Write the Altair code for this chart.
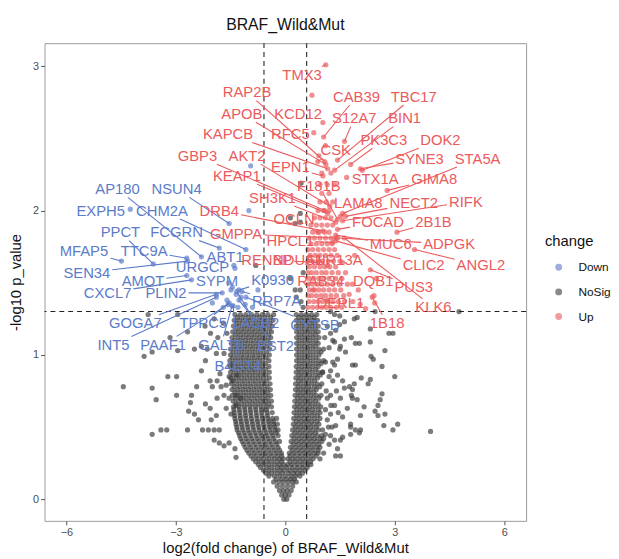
import altair as alt
import pandas as pd

FONT = "Liberation Sans"
BLUE = "#5B7BC9"
GREY = "#3c3c3c"
RED = "#EB5A5C"
X_DOMAIN = [-6.6, 6.6]
Y_DOMAIN = [-0.15, 3.16]
FC_CUT = 0.585
P_CUT = 1.301

# ---- NoSignificant: dense V-shaped core (rows) ----
core_rows = [
    (0.00, [-0.04, 0.04]),
    (0.03, [-0.1, 0.0, 0.1]),
    (0.06, [-0.16, -0.05, 0.05, 0.16]),
    (0.09, [-0.22, -0.08, 0.06, 0.2]),
    (0.12, [-0.32, -0.18, -0.05, 0.08, 0.2, 0.3]),
    (0.16, [-0.45, -0.3, -0.15, 0.0, 0.15, 0.28, 0.4]),
    (0.20, [-0.6, -0.45, -0.3, -0.15, -0.02, 0.12, 0.26, 0.4, 0.54]),
    (0.24, [-0.74, -0.6, -0.45, -0.3, -0.16, -0.04, 0.06, 0.18, 0.32, 0.46, 0.6, 0.7]),
    (0.28, [-0.88, -0.74, -0.6, -0.45, -0.3, -0.16, -0.06, 0.07, 0.2, 0.34, 0.48, 0.62, 0.76]),
    (0.32, [-1.0, -0.85, -0.7, -0.55, -0.4, -0.25, -0.11, 0.11, 0.24, 0.38, 0.52, 0.66, 0.8, 0.9]),
    (0.36, [-1.1, -0.95, -0.8, -0.65, -0.5, -0.35, -0.2, 0.14, 0.28, 0.42, 0.56, 0.7, 0.84, 0.95]),
    (0.40, [-1.18, -1.03, -0.88, -0.73, -0.58, -0.43, -0.28, -0.16, 0.16, 0.3, 0.44, 0.58, 0.72, 0.86, 1.0]),
    (0.44, [-1.25, -1.1, -0.95, -0.8, -0.65, -0.5, -0.35, -0.2, 0.18, 0.32, 0.46, 0.6, 0.74, 0.88, 1.0]),
    (0.48, [-1.32, -1.17, -1.02, -0.87, -0.72, -0.57, -0.42, -0.28, -0.2, 0.2, 0.34, 0.48, 0.62, 0.76, 0.9, 1.02]),
    (0.52, [-1.35, -1.2, -1.05, -0.9, -0.75, -0.6, -0.45, -0.32, -0.22, 0.22, 0.36, 0.5, 0.64, 0.78, 0.92]),
    (0.56, [-1.38, -1.23, -1.08, -0.93, -0.78, -0.63, -0.48, -0.35, -0.24, 0.23, 0.37, 0.51, 0.65, 0.8, 0.95]),
    (0.60, [-1.4, -1.25, -1.1, -0.95, -0.8, -0.65, -0.5, -0.36, 0.24, 0.38, 0.52, 0.66, 0.8, 0.95]),
    (0.64, [-1.42, -1.27, -1.12, -0.97, -0.82, -0.67, -0.52, -0.38, 0.25, 0.39, 0.53, 0.67, 0.82, 0.97]),
    (0.68, [-1.43, -1.28, -1.13, -0.98, -0.83, -0.68, -0.53, -0.38, 0.26, 0.4, 0.54, 0.68, 0.83]),
    (0.72, [-1.45, -1.3, -1.15, -1.0, -0.85, -0.7, -0.55, -0.4, 0.27, 0.41, 0.55, 0.7, 0.85, 0.98]),
    (0.76, [-1.46, -1.31, -1.16, -1.01, -0.86, -0.71, -0.56, -0.41, 0.28, 0.42, 0.56, 0.7, 0.85]),
    (0.80, [-1.48, -1.33, -1.18, -1.03, -0.88, -0.73, -0.58, -0.42, 0.28, 0.42, 0.57, 0.72, 0.87, 1.0]),
    (0.84, [-1.5, -1.35, -1.2, -1.05, -0.9, -0.75, -0.6, -0.44, 0.29, 0.43, 0.58, 0.73, 0.88]),
    (0.88, [-1.5, -1.35, -1.2, -1.05, -0.9, -0.75, -0.6, -0.44, 0.3, 0.44, 0.59, 0.74, 0.9, 1.02]),
    (0.92, [-1.52, -1.37, -1.22, -1.07, -0.92, -0.77, -0.62, -0.45, 0.3, 0.45, 0.6, 0.75, 0.9]),
    (0.96, [-1.52, -1.37, -1.22, -1.07, -0.92, -0.77, -0.62, -0.45, 0.31, 0.46, 0.61, 0.76, 0.92, 1.05]),
    (1.00, [-1.5, -1.35, -1.2, -1.05, -0.9, -0.75, -0.6, -0.44, 0.31, 0.46, 0.61, 0.76, 0.92]),
    (1.04, [-1.5, -1.35, -1.2, -1.05, -0.9, -0.75, -0.6, -0.43, 0.31, 0.46, 0.61, 0.76, 0.92, 1.05]),
    (1.08, [-1.48, -1.33, -1.18, -1.03, -0.88, -0.73, -0.58, -0.42, 0.31, 0.46, 0.61, 0.76, 0.9]),
    (1.12, [-1.46, -1.31, -1.16, -1.01, -0.86, -0.71, -0.56, -0.4, 0.31, 0.46, 0.61, 0.76, 0.92]),
    (1.16, [-1.44, -1.29, -1.14, -0.99, -0.84, -0.69, -0.54, -0.38, 0.31, 0.46, 0.61, 0.76, 0.9]),
    (1.20, [-1.42, -1.27, -1.12, -0.97, -0.82, -0.67, -0.52, -0.36, 0.3, 0.45, 0.6, 0.75, 0.9]),
    (1.24, [-1.4, -1.25, -1.1, -0.95, -0.8, -0.65, -0.5, -0.34, 0.3, 0.45, 0.6, 0.75, 0.88]),
    (1.28, [-1.38, -1.23, -1.08, -0.93, -0.78, -0.63, -0.48, -0.32, 0.3, 0.44, 0.58, 0.72, 0.86]),
]
# second, offset layer of core points (fills the gaps of the first)
core_rows_b = [
    (0.14, [-0.25, -0.1, 0.03, 0.15, 0.25]),
    (0.18, [-0.52, -0.38, -0.22, -0.08, 0.08, 0.22, 0.34, 0.47]),
    (0.22, [-0.68, -0.52, -0.38, -0.22, -0.1, 0.04, 0.19, 0.33, 0.47, 0.6]),
    (0.26, [-0.81, -0.67, -0.52, -0.38, -0.23, -0.1, 0.13, 0.27, 0.41, 0.55, 0.69]),
    (0.30, [-0.94, -0.8, -0.65, -0.5, -0.36, -0.22, -0.1, 0.13, 0.27, 0.41, 0.55, 0.7, 0.84]),
    (0.34, [-1.05, -0.9, -0.75, -0.6, -0.45, -0.3, -0.16, 0.19, 0.33, 0.47, 0.61, 0.75, 0.9]),
    (0.38, [-1.14, -0.99, -0.84, -0.69, -0.54, -0.39, -0.24, 0.22, 0.36, 0.5, 0.64, 0.78, 0.92]),
    (0.42, [-1.22, -1.07, -0.92, -0.77, -0.62, -0.47, -0.32, 0.24, 0.38, 0.52, 0.66, 0.8, 0.95]),
    (0.46, [-1.28, -1.13, -0.98, -0.83, -0.68, -0.53, -0.38, -0.25, 0.26, 0.4, 0.54, 0.68, 0.82]),
    (0.50, [-1.33, -1.18, -1.03, -0.88, -0.73, -0.58, -0.43, -0.3, 0.28, 0.42, 0.56, 0.7, 0.85]),
    (0.54, [-1.36, -1.21, -1.06, -0.91, -0.76, -0.61, -0.46, -0.33, 0.3, 0.44, 0.58, 0.72, 0.87]),
    (0.58, [-1.39, -1.24, -1.09, -0.94, -0.79, -0.64, -0.49, 0.31, 0.45, 0.59, 0.73, 0.88]),
    (0.62, [-1.41, -1.26, -1.11, -0.96, -0.81, -0.66, -0.51, 0.32, 0.46, 0.6, 0.74, 0.9]),
    (0.66, [-1.35, -1.2, -1.05, -0.9, -0.75, -0.6, -0.46, 0.33, 0.47, 0.61, 0.75, 0.9]),
    (0.70, [-1.37, -1.22, -1.07, -0.92, -0.77, -0.62, -0.48, 0.34, 0.48, 0.62, 0.77, 0.92]),
    (0.74, [-1.38, -1.23, -1.08, -0.93, -0.78, -0.63, -0.49, 0.35, 0.49, 0.63, 0.78]),
    (0.78, [-1.4, -1.25, -1.1, -0.95, -0.8, -0.65, -0.5, 0.35, 0.5, 0.64, 0.8, 0.94]),
    (0.82, [-1.42, -1.27, -1.12, -0.97, -0.82, -0.67, -0.52, 0.36, 0.5, 0.65, 0.8]),
    (0.86, [-1.43, -1.28, -1.13, -0.98, -0.83, -0.68, -0.53, 0.37, 0.51, 0.66, 0.82, 0.96]),
    (0.90, [-1.44, -1.29, -1.14, -0.99, -0.84, -0.69, -0.54, 0.37, 0.52, 0.67, 0.83]),
    (0.94, [-1.45, -1.3, -1.15, -1.0, -0.85, -0.7, -0.55, 0.38, 0.53, 0.68, 0.84, 0.98]),
    (0.98, [-1.45, -1.3, -1.15, -1.0, -0.85, -0.7, -0.53, 0.38, 0.53, 0.68, 0.84]),
    (1.02, [-1.43, -1.28, -1.13, -0.98, -0.83, -0.68, -0.52, 0.38, 0.53, 0.68, 0.84, 0.98]),
    (1.06, [-1.41, -1.26, -1.11, -0.96, -0.81, -0.66, -0.5, 0.38, 0.53, 0.68, 0.83]),
    (1.10, [-1.39, -1.24, -1.09, -0.94, -0.79, -0.64, -0.48, 0.38, 0.53, 0.68, 0.84]),
    (1.14, [-1.37, -1.22, -1.07, -0.92, -0.77, -0.62, -0.46, 0.38, 0.53, 0.68, 0.83]),
    (1.18, [-1.35, -1.2, -1.05, -0.9, -0.75, -0.6, -0.44, 0.37, 0.52, 0.67, 0.82]),
    (1.22, [-1.33, -1.18, -1.03, -0.88, -0.73, -0.58, -0.42, 0.37, 0.52, 0.67, 0.81]),
    (1.26, [-1.31, -1.16, -1.01, -0.86, -0.71, -0.56, -0.4, 0.37, 0.51, 0.65, 0.79]),
]

# ---- NoSignificant: scattered points, left side ----
grey_left_x = [-3.76, -2.95, -3.16, -3.87, -3.65, -2.95, -2.68, -4.44, -3.65, -3.54,
               -3.22, -2.98, -2.98, -3.65, -3.41, -3.25, -2.68, -2.27, -2.57, -2.60,
               -2.65, -2.49, -2.38, -2.43, -2.30, -2.06, -2.19, -2.06, -2.03, -1.89,
               -2.11, -1.95, -1.81, -1.95, -1.81, -1.68, -1.54, -1.35, -1.38, -1.87,
               -1.79, -2.00, -1.76, -1.62, -1.54, -1.46, -2.30, -2.14, -1.89, -1.68,
               -2.19, -1.49, -1.33, -1.62, -1.49, -1.35, -1.22, -1.35, -1.68, -1.54,
               -1.87, -2.49, -1.95, -1.70, -2.20, -1.60, -1.85, -2.05]
grey_left_y = [1.28, 1.28, 1.12, 0.99, 1.02, 1.03, 1.16, 0.78, 0.77, 0.69,
               0.85, 0.85, 0.72, 0.45, 0.48, 0.48, 0.48, 0.48, 0.72, 0.67,
               0.61, 0.59, 0.55, 0.78, 0.89, 0.82, 0.66, 0.63, 0.55, 0.58,
               0.48, 0.48, 0.48, 0.41, 0.39, 0.37, 0.39, 0.29, 0.35, 0.82,
               0.87, 0.78, 0.78, 0.79, 0.85, 0.82, 1.06, 1.04, 1.01, 1.01,
               0.96, 0.93, 0.86, 0.63, 0.59, 0.65, 0.70, 0.72, 0.72, 0.70,
               0.70, 1.04, 1.25, 1.22, 1.20, 1.15, 1.12, 1.15]

# ---- NoSignificant: scattered points, right side ----
grey_right_x = [4.76, 3.98, 3.08, 2.95, 2.70, 2.73, 2.54, 2.46, 2.54, 2.60,
                2.65, 3.00, 2.65, 2.73, 2.41, 2.35, 2.33, 2.33, 2.46, 2.84,
                2.95, 2.03, 1.92, 1.81, 2.33, 2.08, 2.27, 2.16, 2.06, 1.97,
                1.84, 1.81, 1.89, 1.84, 1.92, 1.84, 1.65, 1.51, 1.62, 1.89,
                1.97, 1.62, 1.49, 1.35, 1.24, 1.79, 1.92, 2.06, 2.03, 1.79,
                1.57, 1.51, 1.43, 1.38, 1.51, 1.35, 1.79, 1.70, 1.57, 1.51,
                1.62, 1.76, 1.43, 1.57, 1.35, 1.43, 1.24, 1.30, 1.24, 1.35,
                1.24, 1.38, 1.24, 1.49, 1.35, 1.24, 1.38, 1.49,
                1.15, 1.2, 1.1, 1.2, 1.12, 1.25, 1.15, 1.1, 1.2, 1.05,
                1.3, 1.3, 1.4, 1.45, 1.1, 1.18, 1.28, 1.05, 0.95, 1.08, 1.02, 1.15]
grey_right_y = [1.30, 0.47, 0.52, 0.48, 0.51, 0.59, 0.58, 0.61, 0.65, 0.69,
                0.73, 0.85, 0.92, 1.03, 0.97, 0.99, 1.09, 1.18, 1.30, 1.15,
                1.15, 1.08, 1.08, 1.12, 0.83, 0.84, 0.80, 0.64, 0.58, 0.69,
                0.70, 0.72, 0.80, 0.76, 0.93, 0.93, 1.02, 1.06, 1.11, 1.25,
                1.26, 1.23, 1.27, 1.28, 1.30, 0.50, 0.48, 0.48, 0.46, 0.45,
                0.43, 0.41, 0.35, 0.30, 0.30, 0.41, 0.52, 0.63, 0.57, 0.70,
                0.77, 0.78, 0.86, 0.82, 0.93, 0.97, 0.89, 0.82, 0.72, 0.65,
                0.59, 0.51, 0.44, 1.04, 1.09, 1.15, 1.17, 1.21,
                1.2, 1.05, 0.95, 0.85, 0.75, 0.65, 0.55, 0.45, 0.38, 0.32,
                0.95, 1.1, 0.75, 0.6, 0.62, 0.5, 0.5, 0.42, 0.28, 1.12, 0.88, 0.7]

# ---- NoSignificant above the p cut but inside the fold-change cut ----
grey_mid_x = [0.41, 0.14, 0.27, 0.41, 0.49, 0.41, 0.30, 0.43, 0.49, -0.81, 0.27, 0.14, 0.43]
grey_mid_y = [1.92, 1.95, 1.91, 1.98, 1.57, 1.45, 1.40, 1.37, 1.33, 1.62, 1.45, 1.53, 2.19]

# ---- Up: unlabeled cluster ----
up_rows = [
    (1.33, [0.62, 0.75, 0.88, 1.0, 1.12, 1.25, 1.4, 1.55]),
    (1.37, [0.65, 0.78, 0.9, 1.02, 1.15, 1.3, 1.45, 1.62, 1.85]),
    (1.41, [0.62, 0.72, 0.85, 0.98, 1.1, 1.25, 1.4, 1.6, 2.43]),
    (1.45, [0.66, 0.8, 0.92, 1.05, 1.2, 1.35, 1.52, 2.0]),
    (1.49, [0.62, 0.75, 0.88, 1.0, 1.15, 1.3, 1.48, 1.7]),
    (1.53, [0.65, 0.78, 0.92, 1.05, 1.2, 1.38, 1.55, 2.5]),
    (1.57, [0.62, 0.72, 0.85, 1.0, 1.12, 1.28, 1.45, 1.65]),
    (1.61, [0.66, 0.8, 0.95, 1.08, 1.22, 1.38]),
    (1.65, [0.62, 0.75, 0.9, 1.02, 1.18, 1.32, 1.5]),
    (1.69, [0.68, 0.82, 0.95, 1.1, 1.25, 1.42, 1.9]),
    (1.73, [0.62, 0.75, 0.9, 1.05, 1.2, 1.35]),
    (1.77, [0.7, 0.85, 1.0, 1.15, 1.28]),
    (1.81, [0.65, 0.8, 0.95, 1.1, 1.25]),
    (1.85, [0.75, 0.92, 1.08, 1.2]),
    (1.90, [0.7, 0.85, 1.0, 1.15, 1.3]),
    (1.95, [0.8, 0.95, 1.1, 1.25]),
    (2.00, [0.9, 1.05, 1.2]),
    (2.06, [0.95, 1.12, 1.3]),
    (2.12, [1.0, 1.2]),
    (2.18, [0.95, 1.15, 1.35]),
    (2.26, [1.0, 1.25]),
    (2.38, [0.92]),
    (2.45, [1.1]),
]
up_extra_x = [0.73, 2.2, 2.05, 1.75, 2.45]
up_extra_y = [2.80, 1.32, 1.35, 1.42, 1.36]

# ---- Down: unlabeled points ----
down_extra_x = [-0.95, -1.00, -1.35, -1.22, -1.60, -1.10, -1.45, -0.90, -1.30, -2.00, -1.70, -0.75, -1.55]
down_extra_y = [2.31, 2.00, 1.42, 1.40, 1.38, 1.35, 1.47, 1.33, 1.33, 1.36, 1.33, 1.45, 1.50]

# ---- Labeled genes: point position and repelled text position ----
label_names = ["AP180", "NSUN4", "EXPH5", "CHM2A", "PPCT", "FCGRN", "MFAP5", "TTC9A", "ABT1",
               "SEN34", "URGCP", "AMOT", "SYPM", "CXCL7", "PLIN2", "K0930", "RRP7A", "GOGA7",
               "TPPC5", "LACB2", "CYTSB", "INT5", "PAAF1", "GALT6", "EST2", "B4GT4",
               "TMX3", "RAP2B", "CAB39", "TBC17", "APOB", "KCD12", "S12A7", "BIN1", "KAPCB",
               "RFC5", "PK3C3", "DOK2", "CSK", "GBP3", "AKT2", "SYNE3", "STA5A", "EPN1",
               "KEAP1", "STX1A", "GIMA8", "F181B", "SH3K1", "LAMA8", "NECT2", "RIFK", "DRB4",
               "OCLN", "FOCAD", "2B1B", "GMPPA", "HPCL1", "MUC6", "ADPGK", "RENBP", "NDUS1",
               "ANR13A", "CLIC2", "ANGL2", "RAB34", "DQB1", "PUS3", "DERL1", "KLK6", "1B18"]
label_change = ["Down"] * 26 + ["Up"] * 45
label_px = [-2.30, -1.54, -4.25, -1.08, -3.62, -1.81, -4.49, -2.70, -1.41,
            -2.68, -1.38, -2.70, -1.49, -2.57, -1.73, -1.27, -1.19, -1.89,
            -1.54, -1.33, -1.08, -1.89, -1.57, -1.46, -1.27, -1.43,
            1.11, 1.08, 1.05, 1.43, 1.11, 1.03, 1.62, 1.35, 1.16,
            0.78, 1.79, 2.11, 0.89, 1.08, 1.22, 2.06, 1.57, 1.03,
            1.16, 1.68, 2.79, 1.43, 1.38, 1.51, 1.65, 1.57, 1.03,
            0.89, 1.43, 3.06, 1.38, 1.30, 1.38, 1.43, 0.89, 1.16,
            1.57, 1.38, 3.54, 0.76, 1.84, 2.33, 1.16, 1.62, 2.38]
label_py = [1.68, 1.91, 2.01, 1.73, 1.63, 1.74, 1.65, 1.67, 1.62,
            1.65, 1.60, 1.55, 1.45, 1.52, 1.43, 1.45, 1.44, 1.42,
            1.36, 1.44, 1.40, 1.40, 1.35, 1.34, 1.38, 1.34,
            3.01, 2.34, 2.51, 2.35, 2.32, 2.61, 2.48, 2.28, 2.29,
            2.54, 2.32, 2.28, 2.34, 2.00, 2.03, 2.29, 1.98, 2.24,
            1.98, 2.23, 2.14, 1.94, 1.92, 1.96, 1.96, 1.93, 1.86,
            1.85, 1.87, 1.85, 1.81, 1.78, 1.83, 1.81, 1.64, 1.62,
            1.64, 1.79, 1.73, 1.45, 1.49, 1.59, 1.38, 1.81, 1.40]
text_x = [-4.60, -2.98, -5.06, -3.38, -4.52, -2.98, -5.52, -3.87, -1.65,
          -5.44, -2.27, -3.90, -1.87, -4.87, -3.27, -0.35, -0.24, -4.11,
          -2.25, -0.81, 0.81, -4.71, -3.35, -1.76, -0.27, -1.30,
          0.46, -1.05, 1.95, 3.52, -1.19, 0.35, 1.89, 3.27, -1.57,
          0.14, 2.70, 4.25, 1.38, -2.41, -1.05, 3.68, 5.27, 0.14,
          -1.33, 2.46, 4.08, 0.92, -0.35, 2.00, 3.52, 4.95, -1.81,
          0.24, 2.54, 4.06, -1.35, 0.14, 2.89, 4.49, -0.51, 0.35,
          1.33, 3.79, 5.36, 0.97, 2.41, 3.52, 1.51, 4.06, 2.79]
text_y = [2.15, 2.15, 2.00, 2.00, 1.85, 1.85, 1.72, 1.72, 1.68,
          1.57, 1.61, 1.51, 1.51, 1.43, 1.43, 1.52, 1.37, 1.22,
          1.22, 1.22, 1.21, 1.07, 1.07, 1.07, 1.06, 0.92,
          2.94, 2.82, 2.79, 2.79, 2.67, 2.67, 2.64, 2.64, 2.53,
          2.53, 2.49, 2.49, 2.42, 2.38, 2.38, 2.36, 2.36, 2.30,
          2.24, 2.22, 2.22, 2.17, 2.09, 2.05, 2.05, 2.06, 2.00,
          1.94, 1.92, 1.92, 1.84, 1.79, 1.77, 1.77, 1.66, 1.66,
          1.66, 1.62, 1.62, 1.51, 1.51, 1.47, 1.36, 1.33, 1.22]

# ---------------- build tables ----------------
rows = []
for yv, xs_ in core_rows + core_rows_b:
    rows += [(xv, yv, "NoSignificant") for xv in xs_]
for xs_, ys_ in [(grey_left_x, grey_left_y), (grey_right_x, grey_right_y), (grey_mid_x, grey_mid_y)]:
    rows += [(a, b, "NoSignificant") for a, b in zip(xs_, ys_)]
for yv, xs_ in up_rows:
    rows += [(xv, yv, "Up") for xv in xs_]
rows += [(a, b, "Up") for a, b in zip(up_extra_x, up_extra_y)]
rows += [(a, b, "Down") for a, b in zip(down_extra_x, down_extra_y)]
rows += [(a, b, c) for a, b, c in zip(label_px, label_py, label_change)]
pts = pd.DataFrame(rows, columns=["x", "y", "change"])

# text width estimate (Arial metrics at 15px) for clipping leader lines at the label box
CW = {"A": 10.0, "B": 10.0, "C": 10.8, "D": 10.8, "E": 10.0, "F": 9.2, "G": 11.7, "H": 10.8,
      "I": 4.2, "J": 7.5, "K": 10.0, "L": 8.3, "M": 12.5, "N": 10.8, "O": 11.7, "P": 10.0,
      "Q": 11.7, "R": 10.8, "S": 10.0, "T": 9.2, "U": 10.8, "V": 10.0, "W": 14.2, "X": 10.0,
      "Y": 10.0, "Z": 9.2}
SX = 488 / (X_DOMAIN[1] - X_DOMAIN[0])
SY = 484 / (Y_DOMAIN[1] - Y_DOMAIN[0])
seg = []
for n, c, px, py, tx, ty in zip(label_names, label_change, label_px, label_py, text_x, text_y):
    w = sum(CW.get(ch, 8.34) for ch in n) / 2 + 2
    h = 8.5
    dxp = (px - tx) * SX
    dyp = (py - ty) * SY
    if abs(dxp) <= w and abs(dyp) <= h:
        continue
    t = min(w / abs(dxp) if dxp else 1e9, h / abs(dyp) if dyp else 1e9)
    if ((1 - t) ** 2 * (dxp ** 2 + dyp ** 2)) ** 0.5 < 4:
        continue
    seg.append((tx + (px - tx) * t, ty + (py - ty) * t, px, py, c))
segs = pd.DataFrame(seg, columns=["x", "y", "x2", "y2", "change"])
labels = pd.DataFrame({"x": text_x, "y": text_y, "name": label_names, "change": label_change})
vlines = pd.DataFrame({"x": [-FC_CUT, FC_CUT]})
hline = pd.DataFrame({"y": [P_CUT]})

# ---------------- chart ----------------
xs = alt.Scale(domain=X_DOMAIN, nice=False, zero=False)
ys = alt.Scale(domain=Y_DOMAIN, nice=False, zero=False)
cscale = alt.Scale(domain=["Down", "NoSignificant", "Up"], range=[BLUE, GREY, RED])

points = alt.Chart(pts).mark_circle(size=28, opacity=0.68, clip=True).encode(
    x=alt.X("x:Q", scale=xs, axis=alt.Axis(values=[-6, -3, 0, 3, 6], format="d",
                                           title="log2(fold change) of BRAF_Wild&Mut")),
    y=alt.Y("y:Q", scale=ys, axis=alt.Axis(values=[0, 1, 2, 3], format="d", title="-log10 p_value")),
    color=alt.Color("change:N", scale=cscale,
                    legend=alt.Legend(title="change", orient="none", legendX=507, legendY=194,
                                      symbolType="circle", symbolSize=30, symbolOpacity=0.6,
                                      symbolOffset=8, labelOffset=14, rowPadding=13,
                                      titlePadding=12, padding=0)),
)
vr = alt.Chart(vlines).mark_rule(strokeDash=[5, 4], color="#222222", strokeWidth=1.1).encode(x="x:Q")
hr = alt.Chart(hline).mark_rule(strokeDash=[5, 4], color="#222222", strokeWidth=1.1).encode(y="y:Q")
lines = alt.Chart(segs).mark_rule(strokeWidth=1.1, clip=True).encode(
    x="x:Q", y="y:Q", x2="x2:Q", y2="y2:Q",
    color=alt.Color("change:N", scale=cscale, legend=None),
)
texts = alt.Chart(labels).mark_text(fontSize=15, font=FONT, baseline="middle", align="center").encode(
    x="x:Q", y="y:Q", text="name:N",
    color=alt.Color("change:N", scale=cscale, legend=None),
)

chart = alt.layer(points, vr, hr, lines, texts).properties(
    width=488, height=484,
    padding={"left": 37, "top": 32, "right": 86, "bottom": 35},
    autosize=alt.AutoSizeParams(type="none"),
    title=alt.TitleParams("BRAF_Wild&Mut", fontSize=16, fontWeight="normal", font=FONT,
                          anchor="middle", offset=10, color="#111111"),
).configure_view(
    stroke="#9a9a9a", strokeWidth=1
).configure_axis(
    domain=False, grid=False, tickColor="#555555", tickSize=4, labelPadding=2,
    labelColor="#4d4d4d", labelFontSize=11, labelFont=FONT,
    titleFont=FONT, titleFontSize=15, titleFontWeight="normal", titleColor="#111111",
).configure_axisX(titlePadding=3).configure_axisY(titlePadding=9).configure_legend(
    titleFont=FONT, titleFontSize=15, titleFontWeight="normal", titleColor="#111111",
    labelFont=FONT, labelFontSize=12, labelColor="#111111",
)

chart.save("out.html", embed_options={"renderer": "svg", "actions": False})
